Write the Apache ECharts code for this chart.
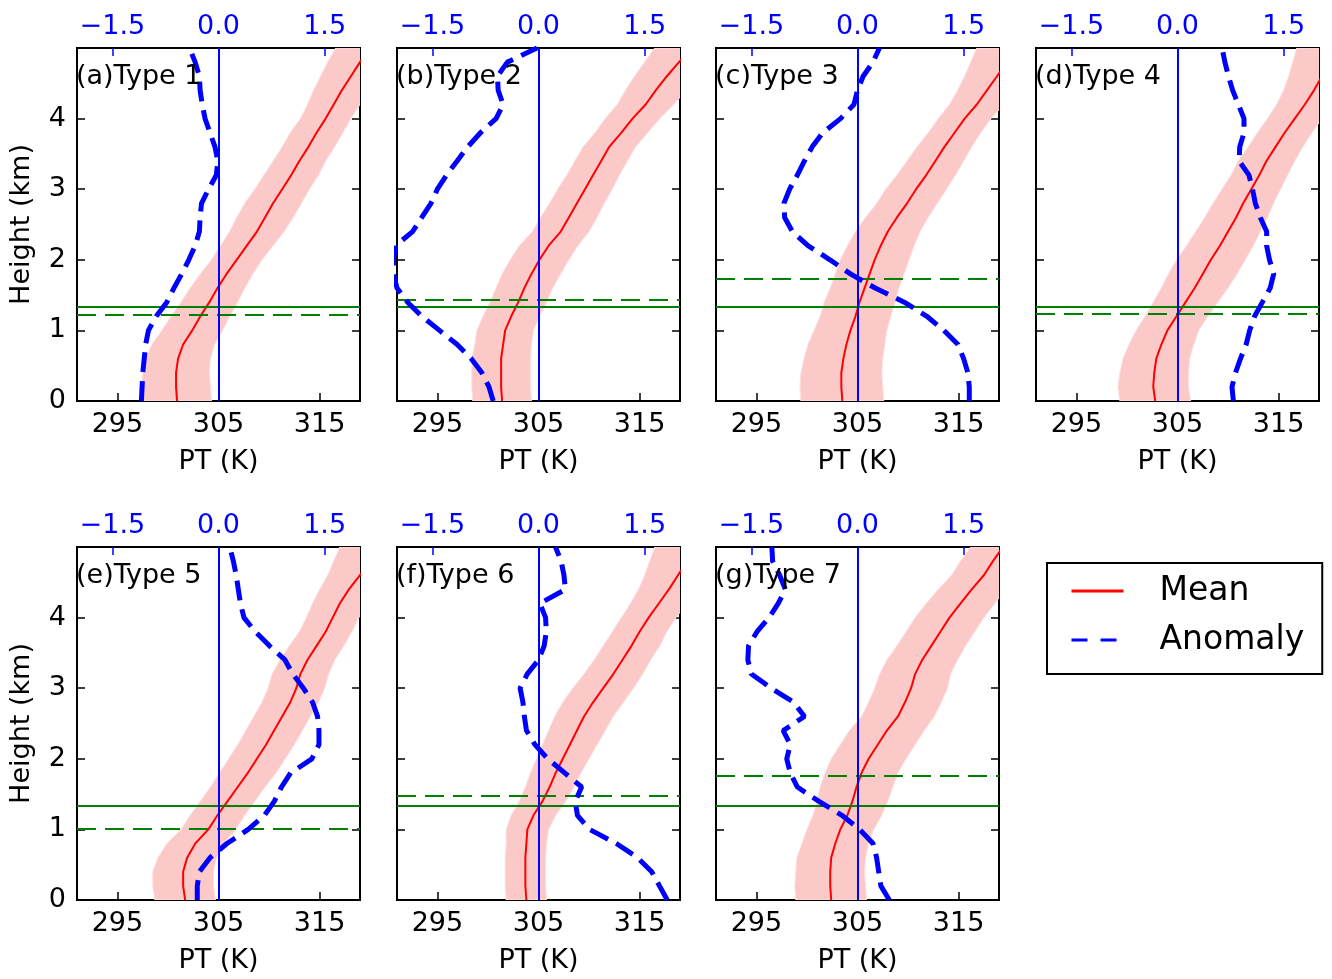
<!DOCTYPE html>
<html>
<head>
<meta charset="utf-8">
<script src="https://cdn.jsdelivr.net/npm/echarts@6/dist/echarts.min.js"></script>
<style>
  html, body { margin: 0; padding: 0; background: #fff; }
  #chart { width: 1332px; height: 979px; }
</style>
</head>
<body>
<div id="chart"></div>
<script>
// heights (km) shared by every profile
const heights = [0, 0.2, 0.4, 0.6, 0.8, 1.0, 1.2, 1.4, 1.6, 1.8, 2.0, 2.2, 2.4, 2.6, 2.8, 3.0, 3.2, 3.4, 3.6, 3.8, 4.0, 4.2, 4.4, 4.6, 4.8, 5.0];

// mean potential temperature (K), its spread (K) and the anomaly (K), per type
const meanA = [300.9, 300.8, 300.8, 301.0, 301.5, 302.4, 303.2, 304.1, 304.9, 305.8, 306.8, 307.8, 308.8, 309.6, 310.4, 311.3, 312.2, 313.0, 313.9, 314.7, 315.6, 316.4, 317.2, 318.1, 319.0, 319.9];
const sdA = [3.4, 3.4, 3.3, 3.2, 3.1, 3.0, 2.9, 2.8, 2.7, 2.6, 2.5, 2.6, 2.7, 2.8, 2.8, 2.7, 2.7, 2.6, 2.6, 2.6, 2.5, 2.6, 2.8, 3.0, 3.2, 3.3];
const anomA = [-1.09, -1.08, -1.07, -1.05, -1.03, -0.99, -0.88, -0.73, -0.63, -0.52, -0.42, -0.33, -0.27, -0.26, -0.24, -0.14, -0.03, -0.01, -0.05, -0.12, -0.19, -0.23, -0.26, -0.27, -0.33, -0.41];

const meanB = [301.4, 301.3, 301.3, 301.3, 301.5, 301.7, 302.3, 303.0, 303.6, 304.3, 305.1, 306.0, 307.2, 308.0, 308.8, 309.6, 310.4, 311.2, 312.0, 313.2, 314.3, 315.6, 316.6, 317.7, 318.9, 320.1];
const sdB = [2.9, 2.9, 2.9, 2.9, 2.8, 2.8, 2.8, 2.8, 2.8, 2.9, 2.9, 2.9, 2.8, 2.8, 2.7, 2.7, 2.6, 2.6, 2.6, 2.6, 2.7, 2.8, 3.0, 3.2, 3.4, 3.6];
const anomB = [-0.64, -0.70, -0.80, -0.95, -1.15, -1.40, -1.65, -1.85, -2.0, -2.05, -2.05, -2.02, -1.78, -1.65, -1.52, -1.43, -1.30, -1.15, -1.0, -0.82, -0.60, -0.50, -0.57, -0.58, -0.44, -0.02];

const meanC = [303.5, 303.4, 303.4, 303.6, 303.9, 304.3, 304.8, 305.2, 305.7, 306.2, 306.7, 307.3, 308.0, 308.9, 309.9, 310.8, 311.8, 312.7, 313.6, 314.6, 315.6, 316.8, 317.8, 318.8, 319.8, 320.8];
const sdC = [4.1, 4.1, 4.0, 3.9, 3.8, 3.6, 3.5, 3.5, 3.4, 3.4, 3.4, 3.3, 3.2, 3.1, 3.0, 3.0, 2.9, 2.8, 2.7, 2.6, 2.6, 2.7, 2.9, 3.2, 3.6, 4.0];
const anomC = [1.58, 1.58, 1.56, 1.50, 1.42, 1.22, 0.98, 0.66, 0.25, -0.10, -0.39, -0.70, -0.92, -1.03, -1.04, -0.96, -0.85, -0.75, -0.64, -0.49, -0.24, -0.05, 0.0, 0.08, 0.22, 0.31];

const meanD = [302.8, 302.6, 302.7, 302.9, 303.4, 304.0, 304.9, 305.8, 306.7, 307.5, 308.3, 309.2, 310.0, 310.8, 311.5, 312.3, 313.1, 313.8, 314.7, 315.6, 316.6, 317.6, 318.5, 319.3, 320.0, 320.7];
const sdD = [3.5, 3.5, 3.4, 3.3, 3.2, 3.1, 3.1, 3.2, 3.3, 3.4, 3.4, 3.3, 3.2, 3.1, 3.0, 2.9, 2.8, 2.8, 2.7, 2.7, 2.7, 2.8, 3.0, 3.3, 3.6, 3.9];
const anomD = [0.79, 0.77, 0.82, 0.89, 0.97, 1.02, 1.09, 1.20, 1.31, 1.36, 1.30, 1.26, 1.26, 1.17, 1.10, 1.06, 1.01, 0.87, 0.88, 0.94, 0.94, 0.86, 0.78, 0.72, 0.67, 0.63];

const meanE = [301.7, 301.5, 301.5, 301.9, 302.7, 304.0, 304.9, 305.9, 306.9, 307.9, 308.8, 309.7, 310.5, 311.3, 312.1, 312.7, 313.1, 313.8, 314.7, 315.6, 316.3, 317.0, 317.9, 319.0, 320.0, 321.0];
const sdE = [3.0, 3.0, 3.0, 2.9, 2.8, 2.7, 2.7, 2.7, 2.7, 2.8, 2.8, 2.8, 2.8, 2.8, 2.8, 2.8, 2.8, 2.7, 2.7, 2.6, 2.6, 2.7, 2.9, 3.2, 3.6, 4.0];
const anomE = [-0.30, -0.30, -0.27, -0.12, 0.12, 0.42, 0.65, 0.79, 0.89, 1.02, 1.32, 1.42, 1.42, 1.40, 1.33, 1.20, 1.05, 0.94, 0.72, 0.52, 0.36, 0.31, 0.28, 0.25, 0.21, 0.16];

const meanF = [303.8, 303.7, 303.7, 303.7, 303.8, 303.9, 304.5, 305.4, 306.1, 306.7, 307.4, 308.1, 308.8, 309.5, 310.4, 311.4, 312.4, 313.3, 314.2, 315.0, 315.9, 316.9, 317.9, 318.8, 319.7, 320.6];
const sdF = [2.0, 2.0, 2.0, 2.0, 2.0, 2.1, 2.2, 2.3, 2.4, 2.5, 2.6, 2.7, 2.8, 2.9, 3.0, 3.0, 2.9, 2.8, 2.8, 2.7, 2.7, 2.8, 3.0, 3.3, 3.7, 4.1];
const anomF = [1.82, 1.71, 1.60, 1.40, 1.10, 0.72, 0.55, 0.52, 0.61, 0.37, 0.13, -0.05, -0.17, -0.20, -0.22, -0.26, -0.16, 0.0, 0.08, 0.11, 0.10, 0.02, 0.38, 0.36, 0.32, 0.24];

const meanG = [302.4, 302.3, 302.3, 302.4, 302.8, 303.3, 304.0, 304.5, 304.9, 305.4, 306.1, 307.0, 307.9, 309.0, 309.7, 310.3, 310.7, 311.4, 312.3, 313.2, 314.1, 315.2, 316.3, 317.5, 318.4, 319.4];
const sdG = [3.5, 3.5, 3.4, 3.4, 3.3, 3.3, 3.4, 3.5, 3.6, 3.6, 3.7, 3.7, 3.7, 3.6, 3.6, 3.6, 3.5, 3.5, 3.4, 3.4, 3.4, 3.4, 3.3, 3.2, 3.2, 3.2];
const anomG = [0.45, 0.33, 0.30, 0.27, 0.22, 0.03, -0.22, -0.55, -0.85, -0.95, -1.0, -0.95, -1.05, -0.75, -0.90, -1.22, -1.50, -1.55, -1.54, -1.42, -1.25, -1.12, -1.02, -1.10, -1.20, -1.21];

const typeLabels = ['(a)Type 1', '(b)Type 2', '(c)Type 3', '(d)Type 4', '(e)Type 5', '(f)Type 6', '(g)Type 7'];
// boundary layer heights (km): all-sample mean (solid) and per type (dashed)
const pblhAll = 1.33;
const pblhType = [1.22, 1.43, 1.73, 1.24, 1.01, 1.47, 1.76];

const ptTicks = [295, 305, 315];
const anomTicks = [-1.5, 0, 1.5];
const heightTicks = [0, 1, 2, 3, 4];

const panels = [
  { mean: meanA, sd: sdA, anom: anomA },
  { mean: meanB, sd: sdB, anom: anomB },
  { mean: meanC, sd: sdC, anom: anomC },
  { mean: meanD, sd: sdD, anom: anomD },
  { mean: meanE, sd: sdE, anom: anomE },
  { mean: meanF, sd: sdF, anom: anomF },
  { mean: meanG, sd: sdG, anom: anomG },
];

const FONT = 'DejaVu Sans';
const colLeft = [77, 397, 716, 1036];
const rowTop = [48, 547];
const plotW = 283;
const plotH = 353;

const grids = [], xAxes = [], yAxes = [], series = [], titles = [];

panels.forEach((p, i) => {
  const r = Math.floor(i / 4);
  const c = i % 4;

  grids.push({
    left: colLeft[c], top: rowTop[r], width: plotW, height: plotH,
    show: true, borderColor: '#000', borderWidth: 2, backgroundColor: 'transparent',
  });

  titles.push({
    text: typeLabels[i], left: colLeft[c] - 1, top: rowTop[r] + 15, padding: 0,
    textStyle: { fontFamily: FONT, fontSize: 27, fontWeight: 'normal', color: '#000' },
  });

  xAxes.push({
    gridIndex: i, type: 'value', position: 'bottom', min: 291, max: 319,
    splitLine: { show: false },
    axisLine: { show: false, onZero: false },
    axisTick: { inside: true, length: 8, customValues: ptTicks, lineStyle: { color: '#000', width: 1.5 } },
    axisLabel: { customValues: ptTicks, fontFamily: FONT, fontSize: 27, color: '#000', margin: 10 },
    name: 'PT (K)', nameLocation: 'middle', nameGap: 47,
    nameTextStyle: { fontFamily: FONT, fontSize: 27, color: '#000' },
  });
  xAxes.push({
    gridIndex: i, type: 'value', position: 'top', min: -2, max: 2,
    splitLine: { show: false },
    axisLine: { show: false, onZero: false },
    axisTick: { inside: true, length: 8, customValues: anomTicks, lineStyle: { color: '#0000ff', width: 1.5 } },
    axisLabel: {
      customValues: anomTicks, fontFamily: FONT, fontSize: 27, color: '#0000ff', margin: 8,
      formatter: (v) => (v < 0 ? '\u2212' : '') + Math.abs(v).toFixed(1),
    },
  });

  yAxes.push({
    gridIndex: i, type: 'value', position: 'left', min: 0, max: 5,
    splitLine: { show: false },
    axisLine: { show: false, onZero: false },
    axisTick: { inside: true, length: 8, customValues: heightTicks, lineStyle: { color: '#000', width: 1.5 } },
    axisLabel: { show: c === 0, customValues: heightTicks, fontFamily: FONT, fontSize: 27, color: '#000', margin: 11 },
    name: c === 0 ? 'Height (km)' : '', nameLocation: 'middle', nameGap: 42, nameRotate: 90,
    nameTextStyle: { fontFamily: FONT, fontSize: 27, color: '#000' },
  });
  yAxes.push({
    gridIndex: i, type: 'value', position: 'right', min: 0, max: 5,
    splitLine: { show: false },
    axisLine: { show: false, onZero: false },
    axisTick: { inside: true, length: 8, customValues: heightTicks, lineStyle: { color: '#000', width: 1.5 } },
    axisLabel: { show: false },
  });

  const band = heights.map((h, k) => [p.mean[k] - p.sd[k], p.mean[k] + p.sd[k], h]);
  series.push({
    type: 'custom', xAxisIndex: 2 * i, yAxisIndex: 2 * i, clip: true, silent: true, z: 1,
    data: band, encode: { x: [0, 1], y: 2 },
    renderItem: (params, api) => {
      if (params.dataIndex !== 0) return;
      const lo = band.map((d) => api.coord([d[0], d[2]]));
      const hi = band.map((d) => api.coord([d[1], d[2]])).reverse();
      return {
        type: 'polygon',
        shape: { points: lo.concat(hi) },
        style: { fill: '#fcc9c9', stroke: '#fde0e0', lineWidth: 1 },
      };
    },
  });

  series.push({
    type: 'line', name: 'Mean', xAxisIndex: 2 * i, yAxisIndex: 2 * i, z: 2,
    data: heights.map((h, k) => [p.mean[k], h]),
    symbol: 'none', silent: true,
    lineStyle: { color: '#ff0000', width: 2 }, itemStyle: { color: '#ff0000' },
    markLine: {
      silent: true, symbol: ['none', 'none'], label: { show: false }, z: 3,
      data: [
        { yAxis: pblhAll, lineStyle: { color: '#008000', width: 2, type: 'solid' } },
        { yAxis: pblhType[i], lineStyle: { color: '#008000', width: 2, type: [19, 9] } },
      ],
    },
  });

  series.push({
    type: 'line', name: 'Anomaly', xAxisIndex: 2 * i + 1, yAxisIndex: 2 * i, z: 4,
    data: heights.map((h, k) => [p.anom[k], h]),
    symbol: 'none', silent: true,
    lineStyle: { color: '#0000ff', width: 5, type: [20, 9] }, itemStyle: { color: '#0000ff' },
    markLine: {
      silent: true, symbol: ['none', 'none'], label: { show: false }, z: 3,
      data: [{ xAxis: 0, lineStyle: { color: '#0000ff', width: 2, type: 'solid' } }],
    },
  });
});

const chart = echarts.init(document.getElementById('chart'));
chart.setOption({
  animation: false,
  backgroundColor: '#fff',
  title: titles,
  grid: grids,
  xAxis: xAxes,
  yAxis: yAxes,
  legend: {
    orient: 'vertical', left: 1047, top: 563,
    data: [{ name: 'Mean' }, { name: 'Anomaly', lineStyle: { type: [16, 13] } }],
    itemWidth: 52, itemHeight: 14, itemGap: 13,
    padding: [10, 18, 16, 23],
    borderColor: '#000', borderWidth: 2, backgroundColor: '#fff',
    lineStyle: { width: 3 },
    itemStyle: { color: 'rgba(0,0,0,0)', borderWidth: 0, opacity: 0 },
    selectedMode: false,
    textStyle: { fontFamily: FONT, fontSize: 33, color: '#000', lineHeight: 36, padding: [0, 0, 0, 31] },
  },
  series: series,
});
</script>
</body>
</html>
